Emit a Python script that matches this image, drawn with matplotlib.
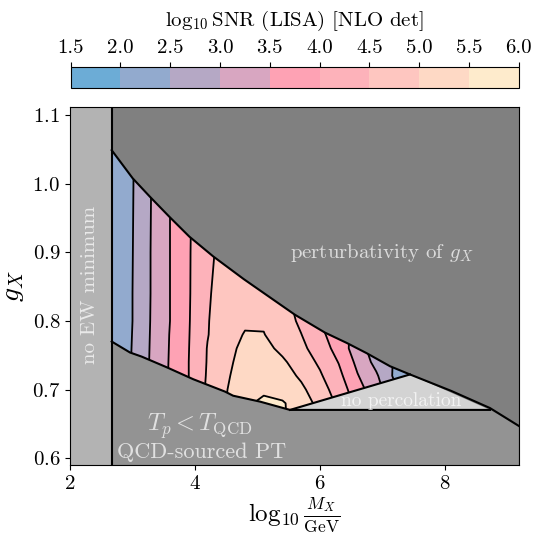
import matplotlib
matplotlib.use("Agg")
import matplotlib.pyplot as plt
import numpy as np
from matplotlib.colors import ListedColormap, BoundaryNorm
from matplotlib.patches import Polygon

plt.rcParams['font.family'] = 'serif'
plt.rcParams['font.serif'] = ['cmr10']
plt.rcParams['mathtext.fontset'] = 'cm'
plt.rcParams['axes.formatter.use_mathtext'] = True

# contour levels and colours (log10 SNR)
levels = [1.5, 2.0, 2.5, 3.0, 3.5, 4.0, 4.5, 5.0, 5.5, 6.0]
level_colors = ['#6CACD6', '#92AACE', '#B5A8C5', '#D8A6C1', '#FEA2B4',
                '#FDB2BA', '#FEC6C0', '#FED9C5', '#FEEBCC']
cbar_ticks = [1.5, 2.0, 2.5, 3.0, 3.5, 4.0, 4.5, 5.0, 5.5, 6.0]

# SNR grid
grid_x = [2.6, 3.0, 3.3, 3.6, 3.9, 4.2, 4.5, 4.8, 5.1, 5.4, 5.7, 6.0, 6.3, 6.6, 6.9, 7.2, 7.5]
grid_y = [0.66, 0.68, 0.70, 0.72, 0.74, 0.76, 0.78, 0.80, 0.84, 0.90, 0.96, 1.02, 1.08]
snr = [
    [2.02, 2.56, 3.09, 3.57, 4.02, 4.60, 5.00, 5.30, 5.75, 5.55, 5.30, 4.95, 4.45, 3.90, 3.35, 2.75, 2.10],
    [2.02, 2.56, 3.09, 3.57, 4.02, 4.60, 5.00, 5.30, 5.75, 5.55, 5.25, 4.85, 4.40, 3.85, 3.30, 2.70, 2.10],
    [2.02, 2.55, 3.08, 3.56, 4.01, 4.58, 4.98, 5.28, 5.30, 5.30, 5.10, 4.70, 4.28, 3.70, 3.20, 2.60, 2.00],
    [2.02, 2.54, 3.07, 3.55, 4.00, 4.55, 4.93, 5.26, 5.33, 5.22, 4.92, 4.56, 4.13, 3.53, 3.07, 2.40, 1.80],
    [2.02, 2.53, 3.06, 3.54, 4.00, 4.53, 4.88, 5.20, 5.28, 5.08, 4.75, 4.42, 3.98, 3.38, 2.85, 2.45, 2.00],
    [2.02, 2.52, 3.05, 3.53, 3.99, 4.52, 4.85, 5.12, 5.15, 4.88, 4.62, 4.25, 3.82, 3.22, 2.75, 2.30, 1.90],
    [2.02, 2.51, 3.04, 3.52, 3.98, 4.48, 4.80, 5.03, 5.02, 4.72, 4.51, 4.11, 3.75, 3.30, 2.90, 2.50, 2.10],
    [2.02, 2.50, 3.03, 3.50, 3.97, 4.47, 4.80, 4.93, 4.93, 4.75, 4.40, 4.00, 3.60, 3.20, 2.80, 2.40, 2.00],
    [2.01, 2.50, 3.02, 3.50, 3.96, 4.44, 4.75, 4.88, 4.85, 4.60, 4.30, 3.90, 3.50, 3.10, 2.70, 2.30, 1.90],
    [2.00, 2.49, 3.02, 3.50, 3.96, 4.38, 4.70, 4.85, 4.80, 4.55, 4.25, 3.85, 3.45, 3.05, 2.65, 2.25, 1.85],
    [1.99, 2.48, 3.01, 3.50, 3.95, 4.36, 4.68, 4.82, 4.78, 4.52, 4.22, 3.82, 3.42, 3.02, 2.62, 2.22, 1.82],
    [1.98, 2.47, 3.00, 3.49, 3.95, 4.35, 4.66, 4.80, 4.76, 4.50, 4.20, 3.80, 3.40, 3.00, 2.60, 2.20, 1.80],
    [1.88, 2.44, 2.98, 3.48, 3.94, 4.34, 4.64, 4.78, 4.74, 4.48, 4.18, 3.78, 3.38, 2.98, 2.58, 2.18, 1.78],
]

# region boundaries
x_ew = 2.667
pert_x = [2.667, 3.003, 3.28, 3.589, 3.909, 4.293, 4.78, 5.253, 5.60, 6.08, 6.427, 6.747, 7.12, 7.44, 8.1, 8.72, 9.18]
pert_y = [1.049, 1.008, 0.981, 0.952, 0.923, 0.894, 0.861, 0.831, 0.809, 0.783, 0.768, 0.753, 0.734, 0.722, 0.698, 0.673, 0.647]
qcd_x = [2.667, 2.96, 3.147, 3.547, 3.973, 4.48, 4.61, 5.04, 5.52, 8.72]
qcd_y = [0.770, 0.754, 0.748, 0.7325, 0.715, 0.697, 0.691, 0.6824, 0.6703, 0.6703]
perc_x = [5.52, 7.44, 8.72]
perc_y = [0.6703, 0.722, 0.6703]

xmin, xmax = 2.0, 9.18
ymin, ymax = 0.59, 1.112

fig = plt.figure(figsize=(5.34, 5.36), dpi=100)
ax = fig.add_axes([0.1311, 0.1325, 0.8403, 0.6679])
cax = fig.add_axes([0.1324, 0.8358, 0.839, 0.0392])

ax.set_facecolor('#808080')

# lower (QCD) region
low_x = [x_ew] + qcd_x + [9.18, 9.18, x_ew]
low_y = [ymin] + qcd_y + [0.647, ymin, ymin]
ax.fill(low_x, low_y, color='#939393', lw=0, zorder=1)
ax.fill(perc_x, perc_y, color='#d3d3d3', lw=0, zorder=1)
ax.fill([xmin, x_ew, x_ew, xmin], [ymin, ymin, ymax, ymax], color='#b3b3b3', lw=0, zorder=1)

# allowed region for the SNR contours
pert_keep = [i for i, x in enumerate(pert_x) if x <= 7.44]
reg_x = [pert_x[i] for i in pert_keep] + list(reversed(qcd_x[:-1]))
reg_y = [pert_y[i] for i in pert_keep] + list(reversed(qcd_y[:-1]))
region = Polygon(np.column_stack([reg_x, reg_y]), closed=True,
                 transform=ax.transData, facecolor='none', edgecolor='none')

cmap = ListedColormap(level_colors)
norm = BoundaryNorm(levels, cmap.N)
X, Y = np.meshgrid(grid_x, grid_y)
Z = np.array(snr)
cf = ax.contourf(X, Y, Z, levels=levels, cmap=cmap, norm=norm, zorder=2)
cf.set_clip_path(region)
cl = ax.contour(X, Y, Z, levels=levels[1:-1], colors='k', linewidths=1.3, zorder=3)
cl.set_clip_path(region)

# boundary lines
ax.plot(pert_x, pert_y, color='k', lw=1.5, zorder=4)
ax.plot(qcd_x, qcd_y, color='k', lw=1.5, zorder=4)
ax.plot(perc_x[:2], perc_y[:2], color='k', lw=1.5, zorder=4)
ax.axvline(x_ew, color='k', lw=1.5, zorder=4)

# labels inside the plot
txt = dict(color='white', alpha=0.72, zorder=5, ha='center', va='center')
ax.text(2.32, 0.852, 'no EW minimum', rotation=90, fontsize=15, **txt)
ax.text(6.98, 0.899, r'perturbativity of $g_X$', fontsize=15, **txt)
ax.text(7.3, 0.684, 'no percolation', fontsize=14, **txt)
ax.text(4.08, 0.647, r'$T_p < T_{\rm QCD}$', fontsize=17.5, **txt)
ax.text(4.1, 0.609, 'QCD-sourced PT', fontsize=16, **txt)

ax.set_xlim(xmin, xmax)
ax.set_ylim(ymin, ymax)
ax.set_xticks([2, 4, 6, 8])
ax.set_yticks([0.6, 0.7, 0.8, 0.9, 1.0, 1.1])
ax.tick_params(labelsize=15)
ax.set_xlabel(r'$\log_{10}\frac{M_X}{\rm GeV}$', fontsize=18, labelpad=2)
ax.set_ylabel(r'$g_X$', fontsize=20, labelpad=4)

cb = fig.colorbar(cf, cax=cax, orientation='horizontal', ticks=cbar_ticks)
cax.xaxis.set_ticks_position('top')
cax.xaxis.set_label_position('top')
cax.tick_params(labelsize=15)
cax.set_xticklabels([f'{t:.1f}' for t in cbar_ticks])
cb.set_label(r'$\log_{10}$SNR (LISA) [NLO det]', fontsize=15, labelpad=10)

fig.savefig('out.png', dpi=100)
